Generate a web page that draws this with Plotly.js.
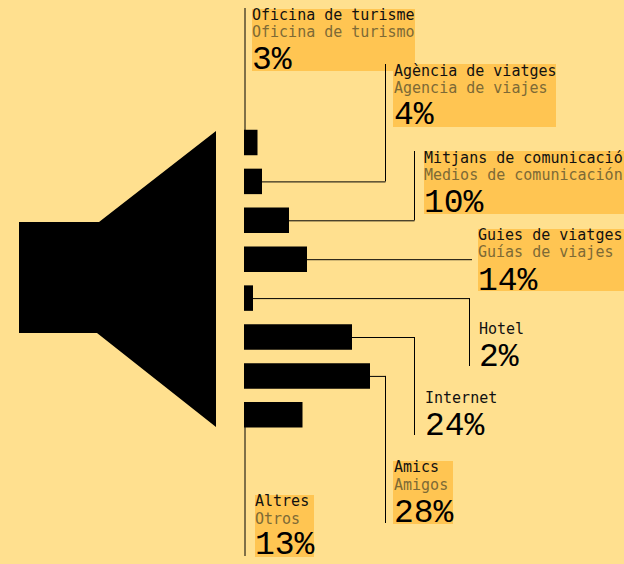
<!DOCTYPE html>
<html>
<head>
<meta charset="utf-8">
<script src="https://cdn.plot.ly/plotly-3.0.1.min.js"></script>
<style>html,body{margin:0;padding:0;background:#FFE08F;overflow:hidden}#c{width:624px;height:564px}</style>
</head>
<body>
<div id="c"></div>
<script>
var categories = ["Oficina de turisme","Agència de viatges","Mitjans de comunicació","Guies de viatges","Hotel","Internet","Amics","Altres"];
var spanish = ["Oficina de turismo","Agencia de viajes","Medios de comunicación","Guías de viajes","","","Amigos","Otros"];
var values = [3,4,10,14,2,24,28,13];

var W = 624, H = 564;
var X0 = 244, PX_PER_PCT = 4.5, Y0 = 142.5, PITCH = 38.9;
var BG = "#FFE08F", BOX = "#FFC552", SUB = "#7D6A36";
var labelFont = "'DejaVu Sans Mono', monospace";
var pctFont = "'Liberation Mono', monospace";

function px(x){return x / W;}
function py(y){return 1 - y / H;}
function barEnd(i){return X0 + values[i] * PX_PER_PCT;}
function barMid(i){return Y0 + i * PITCH;}

// layout of each callout: box [x0,y0,x1,y1], text x, text centre rows, leader route
var boxes = [[252,9,415,71],[393,64,556,127],[424,151,624,214],[478,229,624,291],null,null,[393,461,453,524],[255,495,314,557]];
var textX = [252,394,424,478,479,425,394,255];
var rows = [[15,32,60],[71,88,116],[158,175,203],[235,252,281],[329,null,357],[398,null,426],[467,485,513],[501,519,545]];
var elbowX = [null,385.5,414.5,472,469.5,414.5,385.5,null];
var endY = [null,64,151,null,366,435,523,null];

var shapes = [];
boxes.forEach(function(b){
  if(b) shapes.push({type:"rect",xref:"paper",yref:"paper",x0:px(b[0]),x1:px(b[2]),y0:py(b[1]),y1:py(b[3]),fillcolor:BOX,line:{width:0},layer:"below"});
});
function seg(x0,y0,x1,y1){
  shapes.push({type:"line",xref:"paper",yref:"paper",x0:px(x0),x1:px(x1),y0:py(y0),y1:py(y1),line:{color:"#000",width:1},layer:"below"});
}
categories.forEach(function(c,i){
  if(elbowX[i] !== null){
    seg(barEnd(i),barMid(i)+0.5,elbowX[i],barMid(i)+0.5);
    if(endY[i] !== null) seg(elbowX[i],barMid(i),elbowX[i],endY[i]);
  }
});
seg(245,8,245,130);
seg(245,427,245,556);

// loudspeaker silhouette
var speaker = [[19,222],[99,222],[216,131],[216,427],[97,333],[19,333]];
shapes.push({type:"path",xref:"paper",yref:"paper",
  path:"M"+speaker.map(function(p){return px(p[0])+","+py(p[1]);}).join("L")+"Z",
  fillcolor:"#000",line:{width:0},layer:"below"});

var annotations = [];
function label(x,y,t,size,col,fam){
  annotations.push({xref:"paper",yref:"paper",x:px(x),y:py(y),xanchor:"left",yanchor:"middle",
    text:t,showarrow:false,borderpad:0,borderwidth:0,align:"left",font:{family:fam,size:size,color:col}});
}
categories.forEach(function(c,i){
  label(textX[i],rows[i][0],c,15,"#111",labelFont);
  if(spanish[i]) label(textX[i],rows[i][1],spanish[i],15,SUB,labelFont);
  label(textX[i],rows[i][2],values[i]+"%",33,"#000",pctFont);
});

Plotly.newPlot("c",[{
  type:"bar",orientation:"h",x:values,y:categories,
  marker:{color:"#000",line:{width:0}},hoverinfo:"none",cliponaxis:false
}],{
  width:W,height:H,margin:{l:0,r:0,t:0,b:0,pad:0},
  paper_bgcolor:BG,plot_bgcolor:"rgba(0,0,0,0)",showlegend:false,bargap:0.345,
  xaxis:{range:[-X0/PX_PER_PCT,(W-X0)/PX_PER_PCT],visible:false,fixedrange:true},
  yaxis:{type:"category",categoryorder:"array",categoryarray:categories,
    range:[(H-Y0)/PITCH,-Y0/PITCH],visible:false,fixedrange:true},
  shapes:shapes,annotations:annotations
},{staticPlot:true,displayModeBar:false});
</script>
</body>
</html>
